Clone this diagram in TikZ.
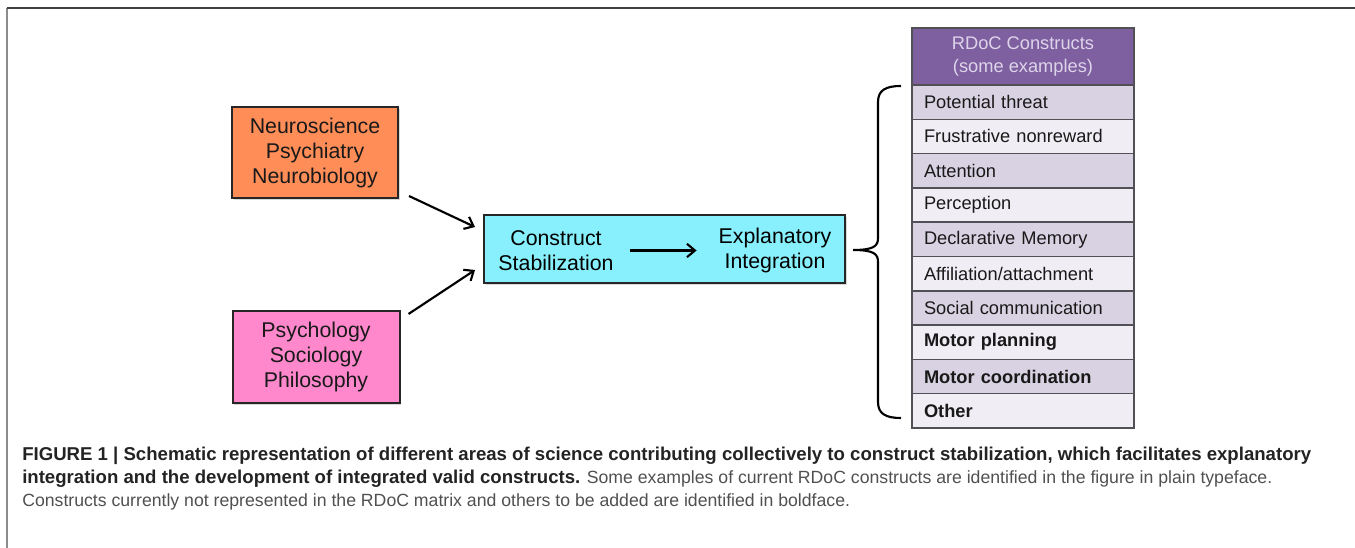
\documentclass[tikz,border=0pt]{standalone}
\usepackage{fontspec}
\setmainfont{Liberation Sans}
\usepackage{tikz}
\usetikzlibrary{calc,shadows,arrows.meta}

\definecolor{neuroorange}{RGB}{255,141,88}
\definecolor{psychpink}{RGB}{255,136,204}
\definecolor{constructcyan}{RGB}{136,240,252}
\definecolor{rdocpurple}{RGB}{126,96,160}
\definecolor{rdoclight}{RGB}{222,212,234}
\definecolor{rowdark}{RGB}{216,210,226}
\definecolor{rowlight}{RGB}{240,237,244}
\definecolor{rowline}{RGB}{80,80,86}
\definecolor{captionbold}{RGB}{35,35,35}
\definecolor{captiongray}{RGB}{80,80,80}

\begin{document}
\begin{tikzpicture}[x=0.75pt, y=-0.75pt, >={Straight Barb[length=6pt,width=10pt]},
  field/.style={draw=black!85, line width=1.5pt, align=center, text=black!90,
    font=\fontsize{16}{18.75}\selectfont,
    drop shadow={shadow xshift=1.2pt, shadow yshift=-1.2pt, opacity=0.3}},
  rowbox/.style={draw=rowline, line width=1.1pt, minimum width=166.5pt, minimum height=25.7pt,
    inner xsep=9pt, text width=148.5pt, align=left, text=black!90,
    font=\fontsize{13.7}{16}\selectfont},
  darkrow/.style={rowbox, fill=rowdark},
  lightrow/.style={rowbox, fill=rowlight},
  figline/.style={anchor=base west, inner sep=0pt, font=\fontsize{13.25}{16}\selectfont}]
\useasboundingbox (0,0) rectangle (1355,548);
\draw[line width=1.1pt, black!45] (7,548) -- (7,8);
\draw[line width=1.4pt, black!75] (7,8) -- (1355,8);

\node[field, fill=neuroorange, minimum width=124.5pt, minimum height=68.25pt] (neuro) at (315,152.5) {Neuroscience\\Psychiatry\\Neurobiology};
\node[field, fill=psychpink, minimum width=125.25pt, minimum height=69pt] (psych) at (316,357) {Psychology\\Sociology\\Philosophy};
\node[field, fill=constructcyan, minimum width=270.75pt, minimum height=51pt] (construct) at (664.5,249) {};
\node[align=center, font=\fontsize{16}{18.75}\selectfont] (stab) at (556,250.5) {Construct\\Stabilization};
\node[align=center, font=\fontsize{16}{18.75}\selectfont] (integ) at (775,250.5) {Explanatory\\Integration};
\draw[->, line width=1.6pt, shorten <=9pt, shorten >=13pt] (stab.east) -- (integ.west);

\draw[->, line width=1.6pt] ($(neuro.south east)+(10,-3)$) -- ($(construct.west)+(-8,-22)$);
\draw[->, line width=1.6pt] ($(psych.north east)+(8,4)$) -- ($(construct.west)+(-8,21)$);

% RDoC table
\node[draw=rowline, line width=1.1pt, fill=rdocpurple, text=rdoclight, minimum width=166.5pt, minimum height=42.75pt, align=center, font=\fontsize{13.7}{17.25}\selectfont] (rdoc) at (1023,56.5) {RDoC Constructs\\(some examples)};
\node[darkrow] (threat) at (1023,102.15) {Potential threat};
\node[lightrow] (nonreward) at (1023,136.45) {Frustrative nonreward};
\node[darkrow] (attention) at (1023,170.75) {Attention};
\node[lightrow] (perception) at (1023,205.05) {Perception};
\node[darkrow] (memory) at (1023,239.35) {Declarative Memory};
\node[lightrow] (affiliation) at (1023,273.65) {Affiliation/attachment};
\node[darkrow] (social) at (1023,307.95) {Social communication};
\node[lightrow] (planning) at (1023,342.25) {\textbf{Motor planning}};
\node[darkrow] (coordination) at (1023,376.55) {\textbf{Motor coordination}};
\node[lightrow] (other) at (1023,410.85) {\textbf{Other}};

% brace
\draw[line width=1.6pt] (901,86) .. controls (886,86) and (878,90) .. (878,102) -- (878,238)
  .. controls (878,246) and (874,250) .. (853,250) .. controls (874,250) and (878,254) .. (878,262)
  -- (878,402) .. controls (878,414) and (886,418) .. (901,418);

% caption
\node[figline, text=captionbold] (figline1) at (22,460) {\fontsize{13.95}{16}\selectfont\textbf{FIGURE 1 | Schematic representation of different areas of science contributing collectively to construct stabilization, which facilitates explanatory}};
\node[figline, text=captiongray] (figline2) at (22,483) {\textcolor{captionbold}{\fontsize{13.95}{16}\selectfont\textbf{integration and the development of integrated valid constructs.}} Some examples of current RDoC constructs are identified in the figure in plain typeface.};
\node[figline, text=captiongray] (figline3) at (22,506) {Constructs currently not represented in the RDoC matrix and others to be added are identified in boldface.};
\end{tikzpicture}
\end{document}
